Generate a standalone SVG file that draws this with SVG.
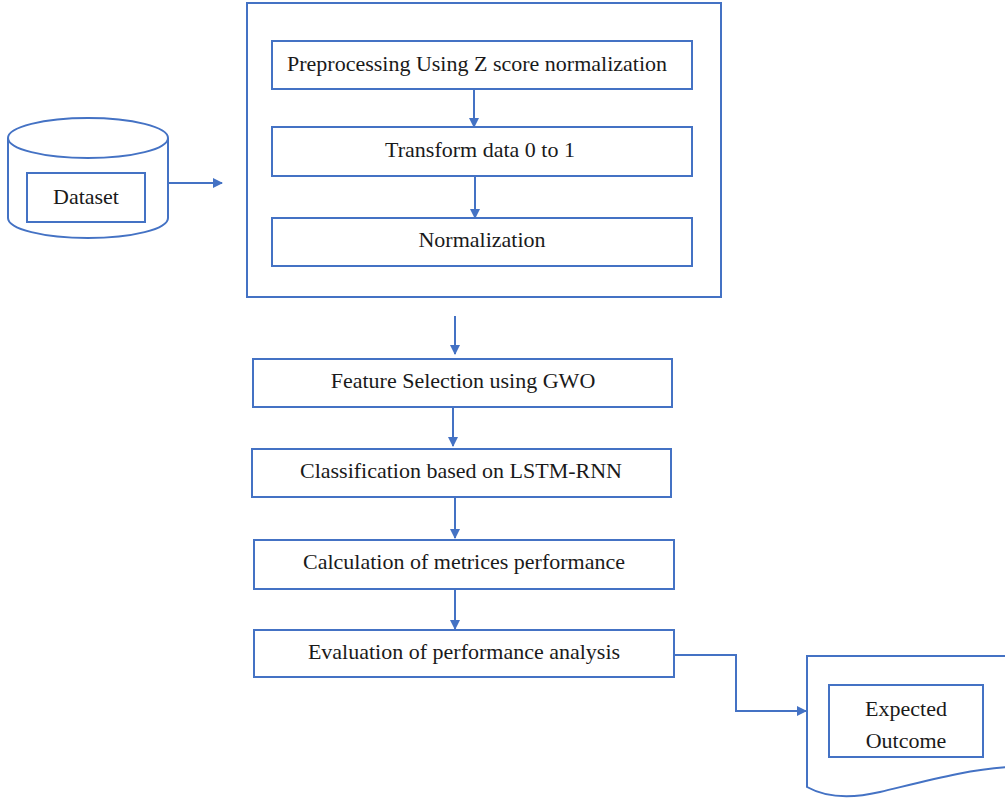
<svg xmlns="http://www.w3.org/2000/svg" width="1005" height="798" viewBox="0 0 1005 798">
<defs>
<style>
.s{fill:none;stroke:#4472C4;stroke-width:2}
.b{fill:#fff;stroke:#4472C4;stroke-width:2}
.t{font-family:"Liberation Serif","Times New Roman",serif;font-size:22px;fill:#1a1a1a;text-anchor:middle}
.c{fill:none;stroke:#4472C4;stroke-width:2}
</style>
<marker id="ah" markerWidth="10" markerHeight="10" refX="9" refY="5" orient="auto" markerUnits="userSpaceOnUse">
<path d="M0,0 L10,5 L0,10 Z" fill="#4472C4"/>
</marker>
</defs>
<rect width="1005" height="798" fill="#fff"/>
<g id="dataset">
<path class="b" d="M8,138 V218 A80,20 0 0 0 168,218 V138"/>
<ellipse class="b" cx="88" cy="138" rx="80" ry="20"/>
<rect class="b" x="27" y="173" width="118" height="49"/>
<text class="t" x="86" y="204">Dataset</text>
</g>
<g id="preprocessing-group">
<rect class="s" x="247" y="3" width="474" height="294"/>
</g>
<g id="preprocessing">
<rect class="b" x="272" y="41" width="420" height="48"/>
<text class="t" x="477" y="71">Preprocessing Using Z score normalization</text>
</g>
<g id="transform">
<rect class="b" x="272" y="127" width="420" height="49"/>
<text class="t" x="480" y="157">Transform data 0 to 1</text>
</g>
<g id="normalization">
<rect class="b" x="272" y="218" width="420" height="48"/>
<text class="t" x="482" y="247">Normalization</text>
</g>
<g id="feature">
<rect class="b" x="253" y="359" width="419" height="48"/>
<text class="t" x="463" y="388">Feature Selection using GWO</text>
</g>
<g id="classification">
<rect class="b" x="252" y="449" width="419" height="48"/>
<text class="t" x="461" y="478">Classification based on LSTM-RNN</text>
</g>
<g id="calculation">
<rect class="b" x="254" y="540" width="420" height="49"/>
<text class="t" x="464" y="569">Calculation of metrices performance</text>
</g>
<g id="evaluation">
<rect class="b" x="254" y="630" width="420" height="47"/>
<text class="t" x="464" y="659">Evaluation of performance analysis</text>
</g>
<g id="expected-outcome">
<path class="b" d="M1010,656 H807 V787 C825,797 850,799 880,792 C930,780 970,769 1010,767"/>
<rect class="b" x="829" y="685" width="154" height="72"/>
<text class="t" x="906" y="716">Expected</text>
<text class="t" x="906" y="748">Outcome</text>
</g>
<g id="connectors">
<path class="c" d="M168,183 H222" marker-end="url(#ah)"/>
<path class="c" d="M474,89 V127" marker-end="url(#ah)"/>
<path class="c" d="M475,176 V218" marker-end="url(#ah)"/>
<path class="c" d="M455,316 V354" marker-end="url(#ah)"/>
<path class="c" d="M453,407 V446" marker-end="url(#ah)"/>
<path class="c" d="M455,497 V538" marker-end="url(#ah)"/>
<path class="c" d="M455,589 V629" marker-end="url(#ah)"/>
<path class="c" d="M674,655 H736 V711 H806" marker-end="url(#ah)"/>
</g>
</svg>
